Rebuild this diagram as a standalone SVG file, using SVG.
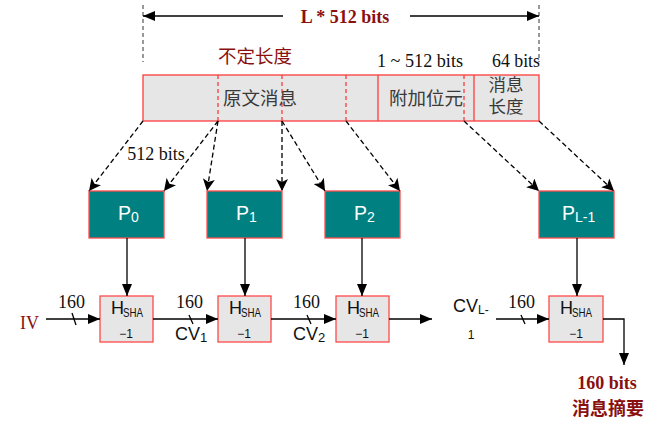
<svg xmlns="http://www.w3.org/2000/svg" width="672" height="440" viewBox="0 0 672 440">
<style>
.bg{fill:#ffffff}
.blk{fill:#e6e6e6;stroke:#ff3c3c;stroke-width:1.3}
.div{stroke:#ff3c3c;stroke-width:1.3;fill:none}
.divd{stroke:#ff3c3c;stroke-width:1.3;stroke-dasharray:4 3;fill:none}
.pbox{fill:#008080;stroke:#ff4a4a;stroke-width:1.3}
.hbox{fill:#e6e6e6;stroke:#ff4a4a;stroke-width:1.3}
.ptxt{font-family:"Liberation Sans",Arial,sans-serif;fill:#ffffff}
.htxt{font-family:"Liberation Sans",Arial,sans-serif;fill:#111111}
.ser{font-family:"Liberation Serif","Times New Roman",serif;fill:#111111}
.red{font-family:"Liberation Serif","Noto Sans CJK SC",serif;fill:#8a1010}
.cjk{font-family:"Liberation Serif","Noto Sans CJK SC",serif;fill:#3a3a3a}
.dash{stroke:#000;stroke-width:1.3;stroke-dasharray:5 3;fill:none}
.sol{stroke:#000;stroke-width:1.3;fill:none}
.vdim{stroke:#333;stroke-width:1;stroke-dasharray:4 3;fill:none}
</style>
<defs>
<marker id="ah" viewBox="0 0 12 10" refX="12" refY="5" markerWidth="12" markerHeight="11" markerUnits="userSpaceOnUse" orient="auto">
<path d="M0,0 L12,5 L0,10 Z" fill="#000"/>
</marker>
<marker id="ahd" viewBox="0 0 12 12" refX="12" refY="6" markerWidth="13" markerHeight="12" markerUnits="userSpaceOnUse" orient="auto">
<path d="M0,0 L12,6 L0,12 L3,6 Z" fill="#000"/>
</marker>
<marker id="ahs" viewBox="0 0 12 10" refX="12" refY="5" markerWidth="13" markerHeight="10" markerUnits="userSpaceOnUse" orient="auto-start-reverse">
<path d="M0,0 L12,5 L0,10 Z" fill="#000"/>
</marker>
</defs>
<rect class="bg" x="0" y="0" width="672" height="440"/>

<g id="dimension">
<line class="vdim" x1="143" y1="5" x2="143" y2="62"/>
<line class="vdim" x1="539" y1="5" x2="539" y2="62"/>
<line class="sol" x1="143" y1="16" x2="283" y2="16" marker-start="url(#ahs)"/>
<line class="sol" x1="410" y1="16" x2="539" y2="16" marker-end="url(#ahs)"/>
<text class="red" x="345" y="23" font-size="18" font-weight="bold" text-anchor="middle">L * 512 bits</text>
</g>

<g id="message">
<rect class="blk" x="143" y="75" width="396" height="46"/>
<line class="div" x1="378" y1="75" x2="378" y2="121"/>
<line class="div" x1="474" y1="75" x2="474" y2="121"/>
<line class="divd" x1="218" y1="75" x2="218" y2="121"/>
<line class="divd" x1="282" y1="75" x2="282" y2="121"/>
<line class="divd" x1="346" y1="75" x2="346" y2="121"/>
<line class="divd" x1="464" y1="75" x2="464" y2="121"/>
<text class="red" x="255" y="63" font-size="18.5" text-anchor="middle">不定长度</text>
<text class="ser" x="420" y="67" font-size="18" text-anchor="middle" textLength="86" lengthAdjust="spacingAndGlyphs">1 ~ 512 bits</text>
<text class="ser" x="516" y="67" font-size="18" text-anchor="middle" textLength="48" lengthAdjust="spacingAndGlyphs">64 bits</text>
<text class="cjk" x="260" y="105" font-size="18.5" text-anchor="middle">原文消息</text>
<text class="cjk" x="426" y="105" font-size="18.5" text-anchor="middle">附加位元</text>
<text class="cjk" x="506" y="91" font-size="17.5" text-anchor="middle">消息</text>
<text class="cjk" x="506" y="113" font-size="17.5" text-anchor="middle">长度</text>
</g>

<g id="P0">
<rect class="pbox" x="89" y="191" width="75" height="47"/>
<text class="ptxt" x="118" y="220" font-size="19.5">P<tspan font-size="14" dy="2">0</tspan></text>
</g>
<g id="P1">
<rect class="pbox" x="207" y="191" width="75" height="47"/>
<text class="ptxt" x="236" y="220" font-size="19.5">P<tspan font-size="14" dy="2">1</tspan></text>
</g>
<g id="P2">
<rect class="pbox" x="325" y="191" width="75" height="47"/>
<text class="ptxt" x="354" y="220" font-size="19.5">P<tspan font-size="14" dy="2">2</tspan></text>
</g>
<g id="PL-1">
<rect class="pbox" x="539" y="191" width="75" height="47"/>
<text class="ptxt" x="562" y="220" font-size="19.5">P<tspan font-size="14" dy="2">L-1</tspan></text>
</g>

<g id="H1">
<rect class="hbox" x="100" y="296" width="53" height="46"/>
<text class="htxt" x="111" y="314" font-size="18">H</text>
<text class="htxt" x="123" y="317" font-size="12" textLength="20" lengthAdjust="spacingAndGlyphs">SHA</text>
<text class="htxt" x="126" y="338" font-size="12" text-anchor="middle" fill="#333">−1</text>
</g>
<g id="H2">
<rect class="hbox" x="218" y="296" width="53" height="46"/>
<text class="htxt" x="229" y="314" font-size="18">H</text>
<text class="htxt" x="241" y="317" font-size="12" textLength="20" lengthAdjust="spacingAndGlyphs">SHA</text>
<text class="htxt" x="244" y="338" font-size="12" text-anchor="middle" fill="#333">−1</text>
</g>
<g id="H3">
<rect class="hbox" x="336" y="296" width="53" height="46"/>
<text class="htxt" x="347" y="314" font-size="18">H</text>
<text class="htxt" x="359" y="317" font-size="12" textLength="20" lengthAdjust="spacingAndGlyphs">SHA</text>
<text class="htxt" x="362" y="338" font-size="12" text-anchor="middle" fill="#333">−1</text>
</g>
<g id="H4">
<rect class="hbox" x="549" y="296" width="54" height="46"/>
<text class="htxt" x="560" y="314" font-size="18">H</text>
<text class="htxt" x="572" y="317" font-size="12" textLength="20" lengthAdjust="spacingAndGlyphs">SHA</text>
<text class="htxt" x="576" y="338" font-size="12" text-anchor="middle" fill="#333">−1</text>
</g>

<g id="labels">
<text class="red" x="20" y="329" font-size="18">IV</text>
<text class="ser" x="71.5" y="308" font-size="18" text-anchor="middle">160</text>
<text class="ser" x="189.5" y="308" font-size="18" text-anchor="middle">160</text>
<text class="ser" x="306.5" y="308" font-size="18" text-anchor="middle">160</text>
<text class="ser" x="521.5" y="308" font-size="18" text-anchor="middle">160</text>
<text class="htxt" x="175" y="340" font-size="18">CV<tspan font-size="13" dy="2">1</tspan></text>
<text class="htxt" x="293" y="340" font-size="18">CV<tspan font-size="13" dy="2">2</tspan></text>
<text class="htxt" x="453" y="312" font-size="18">CV<tspan font-size="12" dy="2">L-</tspan></text>
<text class="htxt" x="471" y="339" font-size="12" text-anchor="middle" fill="#333">1</text>
<text class="ser" x="156" y="160" font-size="18" text-anchor="middle">512 bits</text>
<text class="red" x="607" y="389" font-size="18" font-weight="bold" text-anchor="middle">160 bits</text>
<text class="red" x="608" y="415" font-size="18" font-weight="bold" text-anchor="middle">消息摘要</text>
</g>

<g id="connectors">
<line class="dash" x1="143" y1="121" x2="89" y2="191" marker-end="url(#ahd)"/>
<line class="dash" x1="218" y1="121" x2="164" y2="191" marker-end="url(#ahd)"/>
<line class="dash" x1="218" y1="121" x2="207" y2="191" marker-end="url(#ahd)"/>
<line class="dash" x1="282" y1="121" x2="282" y2="191" marker-end="url(#ahd)"/>
<line class="dash" x1="282" y1="121" x2="325" y2="191" marker-end="url(#ahd)"/>
<line class="dash" x1="346" y1="121" x2="400" y2="191" marker-end="url(#ahd)"/>
<line class="dash" x1="464" y1="121" x2="539" y2="191" marker-end="url(#ahd)"/>
<line class="dash" x1="539" y1="121" x2="614" y2="191" marker-end="url(#ahd)"/>

<line class="sol" x1="127" y1="238" x2="127" y2="296" marker-end="url(#ah)"/>
<line class="sol" x1="245" y1="238" x2="245" y2="296" marker-end="url(#ah)"/>
<line class="sol" x1="362" y1="238" x2="362" y2="296" marker-end="url(#ah)"/>
<line class="sol" x1="577" y1="238" x2="577" y2="296" marker-end="url(#ah)"/>

<line class="sol" x1="46" y1="319" x2="100" y2="319" marker-end="url(#ah)"/>
<line class="sol" x1="153" y1="319" x2="218" y2="319" marker-end="url(#ah)"/>
<line class="sol" x1="271" y1="319" x2="336" y2="319" marker-end="url(#ah)"/>
<line class="sol" x1="389" y1="319" x2="432" y2="319" marker-end="url(#ah)"/>
<line class="sol" x1="496" y1="319" x2="549" y2="319" marker-end="url(#ah)"/>
<polyline class="sol" points="603,319 624,319 624,365" marker-end="url(#ah)"/>

<line class="sol" x1="72" y1="313" x2="76" y2="325"/>
<line class="sol" x1="189" y1="315" x2="193" y2="324"/>
<line class="sol" x1="307" y1="315" x2="311" y2="324"/>
<line class="sol" x1="521" y1="315" x2="525" y2="324"/>
</g>
</svg>
